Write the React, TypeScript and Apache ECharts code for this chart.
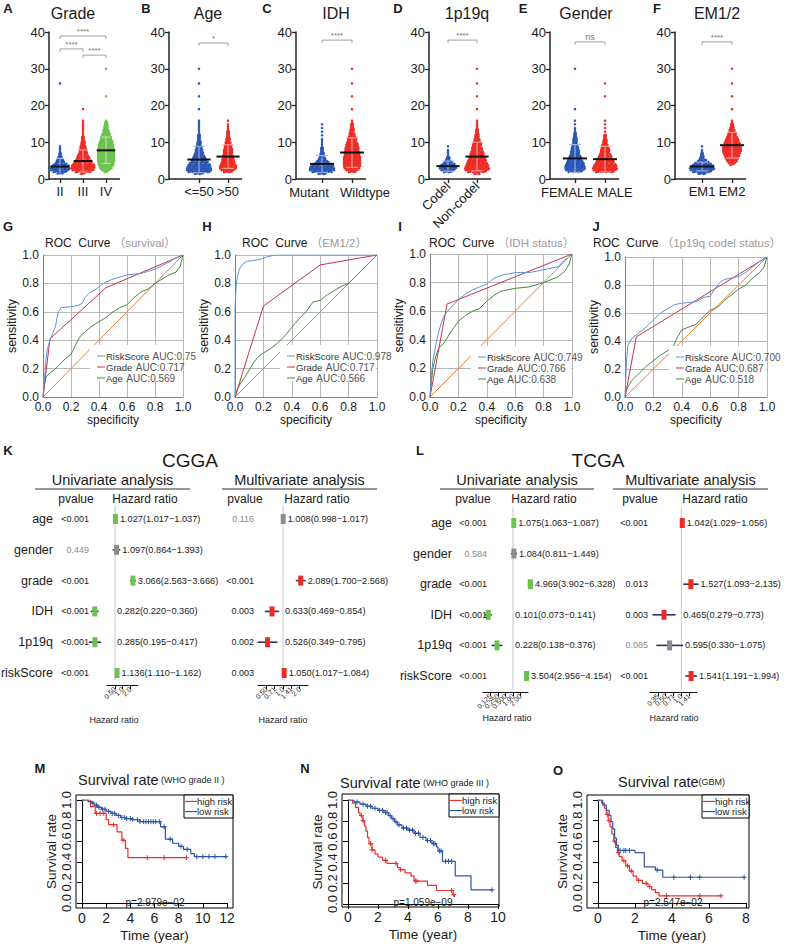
import React, { useEffect, useRef } from "react";
import * as echarts from "echarts";

const FONT = "'Liberation Sans', Arial, Helvetica, 'Noto Sans CJK SC', sans-serif";
const INK = "#1a1a1a";
const BLUE = "#2b55b3";
const RED = "#ec2b25";
const GREEN = "#6cc14f";
const BLUE_L = "#a3b9ea";
const RED_L = "#f7a8a3";
const GREEN_L = "#c3e7b2";
const SQ2 = Math.SQRT2;

// ---------- A–F : risk score distributions (counts per 0.5 bin starting at 1.5) ----------
const BIN_START = 1.5;
const BIN_STEP = 0.5;
const gradeCats = ["II", "III", "IV"];
const gradeII = [4, 9, 12, 13, 12, 9, 6, 5, 4, 3, 2, 2, 1, 1, 1, 1];
const gradeIII = [3, 10, 14, 15, 15, 14, 12, 11, 9, 8, 7, 6, 5, 5, 4, 4, 3, 3, 2, 2, 2, 1, 1, 1, 1, 1, 1, 1, 1, 1];
const gradeIV = [0, 3, 6, 8, 9, 10, 10, 11, 11, 11, 11, 11, 11, 11, 10, 10, 10, 9, 8, 7, 7, 6, 5, 4, 4, 3, 3, 2, 2, 1];
const gradeOut = [[26], [19], [22.5, 30]];
const gradeMeans = [3.4, 4.9, 7.8];
const gradeSDs = [2.2, 3.0, 3.6];
const gradeSig: [number, number, number, string][] = [[0, 2, 38.9, "****"], [0, 1, 35.4, "****"], [1, 2, 33.7, "****"]];

const ageCats = ["<=50", ">50"];
const ageLe50 = [6, 14, 16, 16, 15, 14, 12, 10, 9, 8, 7, 6, 5, 5, 4, 4, 3, 3, 2, 2, 2, 2, 1, 1, 1, 1, 1, 1, 1, 1];
const ageGt50 = [0, 6, 9, 11, 11, 10, 9, 8, 8, 7, 7, 6, 6, 6, 5, 5, 4, 4, 3, 3, 2, 2, 2, 2, 1, 1, 1, 1, 0, 1];
const ageOut = [[19, 22.5, 26, 30], []];
const ageMeans = [5.3, 6.1];
const ageSDs = [3.6, 3.2];
const ageSig: [number, number, number, string][] = [[0, 1, 37, "*"]];

const idhCats = ["Mutant", "Wildtype"];
const idhMut = [5, 13, 16, 16, 15, 12, 9, 7, 5, 4, 3, 3, 2, 2, 2, 1, 1, 1, 1, 1, 0, 1, 0, 1, 0, 1, 0, 1];
const idhWt = [0, 5, 8, 10, 11, 11, 11, 11, 11, 11, 10, 10, 10, 9, 9, 8, 8, 7, 6, 6, 5, 4, 4, 3, 3, 2, 2, 2, 1, 1];
const idhOut = [[], [19, 22.5, 26, 30]];
const idhMeans = [4.1, 7.2];
const idhSDs = [2.3, 4.0];
const idhSig: [number, number, number, string][] = [[0, 1, 37.8, "****"]];

const codelCats = ["Codel", "Non-codel"];
const codel = [0, 6, 9, 11, 11, 9, 6, 4, 3, 2, 1, 1, 1, 1, 0, 1];
const nonCodel = [4, 12, 15, 16, 15, 14, 13, 12, 11, 10, 9, 9, 8, 7, 7, 6, 6, 5, 4, 4, 3, 3, 2, 2, 2, 1, 1, 1, 1, 1];
const codelOut = [[], [19, 22.5, 26, 30]];
const codelMeans = [3.5, 6.1];
const codelSDs = [1.4, 3.9];
const codelSig: [number, number, number, string][] = [[0, 1, 37.8, "****"]];

const genderCats = ["FEMALE", "MALE"];
const female = [0, 9, 12, 13, 13, 12, 11, 10, 9, 8, 7, 6, 6, 5, 5, 4, 4, 3, 3, 3, 2, 2, 2, 1, 1, 1, 0, 1, 0, 1];
const male = [0, 12, 15, 16, 15, 14, 12, 11, 10, 9, 8, 7, 6, 6, 5, 4, 4, 3, 3, 2, 2, 2, 0, 1, 0, 1, 0, 1, 0, 1];
const genderOut = [[19, 30], [22.5, 26]];
const genderMeans = [5.6, 5.4];
const genderSDs = [3.8, 3.5];
const genderSig: [number, number, number, string][] = [[0, 1, 37.3, "ns"]];

const emCats = ["EM1", "EM2"];
const em1 = [5, 12, 15, 16, 15, 12, 9, 6, 4, 3, 2, 2, 1, 1, 0, 1];
const em2 = [0, 0, 0, 0, 0, 3, 5, 7, 8, 9, 10, 11, 12, 12, 12, 12, 11, 10, 9, 8, 7, 6, 5, 4, 4, 3, 2, 2, 1, 1];
const emOut = [[], [19, 22.5, 26, 30]];
const emMeans = [3.4, 9.2];
const emSDs = [1.2, 3.5];
const emSig: [number, number, number, string][] = [[0, 1, 37.3, "****"]];

// ---------- G–J : ROC curves ----------
const rocLegendNames = ["RiskScore", "Grade", "Age"];
const DIAG = [[0, 0], [1, 1]];
const rocG_risk = [[0, 0], [0.01, 0.12], [0.02, 0.25], [0.03, 0.33], [0.05, 0.4], [0.07, 0.45], [0.09, 0.5], [0.1, 0.56], [0.11, 0.6], [0.13, 0.63], [0.2, 0.635], [0.25, 0.645], [0.28, 0.66], [0.3, 0.7], [0.33, 0.73], [0.38, 0.76], [0.42, 0.79], [0.45, 0.81], [0.5, 0.83], [0.6, 0.86], [0.7, 0.87], [0.8, 0.9], [0.9, 0.95], [0.95, 0.98], [1, 1]];
const rocG_grade = [[0, 0], [0.05, 0.41], [0.45, 0.77], [1, 1]];
const rocG_age = [[0, 0], [0.01, 0.08], [0.02, 0.14], [0.05, 0.17], [0.08, 0.19], [0.12, 0.23], [0.16, 0.27], [0.2, 0.3], [0.23, 0.36], [0.26, 0.42], [0.3, 0.46], [0.35, 0.5], [0.4, 0.53], [0.45, 0.56], [0.5, 0.6], [0.55, 0.63], [0.6, 0.65], [0.65, 0.7], [0.7, 0.74], [0.75, 0.76], [0.8, 0.8], [0.85, 0.83], [0.9, 0.86], [0.95, 0.88], [0.98, 0.92], [1, 1]];
const rocG_auc = ["0.75", "0.717", "0.569"];

const rocH_risk = [[0, 0], [0, 0.62], [0.005, 0.72], [0.01, 0.8], [0.02, 0.86], [0.03, 0.9], [0.05, 0.93], [0.08, 0.955], [0.12, 0.96], [0.18, 0.97], [0.22, 0.985], [0.28, 1], [1, 1]];
const rocH_grade = [[0, 0], [0.2, 0.64], [0.6, 0.93], [1, 1]];
const rocH_age = [[0, 0], [0.02, 0.06], [0.04, 0.1], [0.07, 0.14], [0.1, 0.19], [0.13, 0.24], [0.16, 0.28], [0.2, 0.31], [0.25, 0.34], [0.3, 0.38], [0.35, 0.43], [0.4, 0.49], [0.45, 0.55], [0.5, 0.6], [0.55, 0.67], [0.6, 0.68], [0.65, 0.72], [0.7, 0.75], [0.75, 0.78], [0.8, 0.8], [0.85, 0.85], [0.9, 0.9], [0.95, 0.95], [1, 1]];
const rocH_auc = ["0.978", "0.717", "0.566"];

const rocI_risk = [[0, 0], [0.01, 0.15], [0.02, 0.25], [0.04, 0.36], [0.06, 0.45], [0.08, 0.52], [0.1, 0.57], [0.14, 0.62], [0.2, 0.68], [0.25, 0.72], [0.3, 0.75], [0.35, 0.77], [0.4, 0.79], [0.45, 0.83], [0.5, 0.85], [0.6, 0.87], [0.7, 0.87], [0.8, 0.89], [0.9, 0.91], [0.95, 0.96], [0.97, 0.97], [1, 1]];
const rocI_grade = [[0, 0], [0.12, 0.65], [1, 1]];
const rocI_age = [[0, 0], [0.01, 0.1], [0.02, 0.2], [0.04, 0.28], [0.06, 0.34], [0.1, 0.38], [0.15, 0.46], [0.2, 0.53], [0.25, 0.57], [0.3, 0.6], [0.35, 0.62], [0.4, 0.67], [0.45, 0.71], [0.5, 0.74], [0.6, 0.76], [0.7, 0.77], [0.8, 0.8], [0.9, 0.84], [0.95, 0.88], [0.98, 0.93], [1, 1]];
const rocI_auc = ["0.749", "0.766", "0.638"];

const rocJ_risk = [[0, 0], [0.005, 0.12], [0.01, 0.25], [0.02, 0.37], [0.05, 0.42], [0.1, 0.46], [0.15, 0.5], [0.2, 0.55], [0.25, 0.6], [0.3, 0.63], [0.35, 0.66], [0.4, 0.67], [0.5, 0.68], [0.55, 0.71], [0.6, 0.72], [0.63, 0.77], [0.67, 0.82], [0.7, 0.84], [0.8, 0.86], [0.85, 0.89], [0.9, 0.93], [0.95, 0.97], [1, 1]];
const rocJ_grade = [[0, 0], [0.08, 0.43], [1, 1]];
const rocJ_age = [[0, 0], [0.01, 0.05], [0.03, 0.09], [0.05, 0.12], [0.1, 0.17], [0.15, 0.22], [0.2, 0.26], [0.25, 0.3], [0.3, 0.33], [0.34, 0.36], [0.37, 0.43], [0.4, 0.48], [0.45, 0.5], [0.5, 0.52], [0.55, 0.57], [0.6, 0.62], [0.65, 0.64], [0.7, 0.69], [0.75, 0.73], [0.8, 0.77], [0.85, 0.8], [0.9, 0.85], [0.95, 0.89], [0.98, 0.93], [1, 1]];
const rocJ_auc = ["0.700", "0.687", "0.518"];

// ---------- K–L : Cox regression ----------
const coxVars = ["age", "gender", "grade", "IDH", "1p19q", "riskScore"];
const kUniP = ["<0.001", "0.449", "<0.001", "<0.001", "<0.001", "<0.001"];
const kUniHR = [1.027, 1.097, 3.066, 0.282, 0.285, 1.136];
const kUniLo = [1.017, 0.864, 2.563, 0.22, 0.195, 1.11];
const kUniHi = [1.037, 1.393, 3.666, 0.36, 0.417, 1.162];
const kMultiP = ["0.116", "", "<0.001", "0.003", "0.002", "0.003"];
const kMultiHR = [1.008, null, 2.089, 0.633, 0.526, 1.05];
const kMultiLo = [0.998, null, 1.7, 0.469, 0.349, 1.017];
const kMultiHi = [1.017, null, 2.568, 0.854, 0.795, 1.084];
const lUniP = ["<0.001", "0.584", "<0.001", "<0.001", "<0.001", "<0.001"];
const lUniHR = [1.075, 1.084, 4.969, 0.101, 0.228, 3.504];
const lUniLo = [1.063, 0.811, 3.902, 0.073, 0.138, 2.956];
const lUniHi = [1.087, 1.449, 6.328, 0.141, 0.376, 4.154];
const lMultiP = ["<0.001", "", "0.013", "0.003", "0.085", "<0.001"];
const lMultiHR = [1.042, null, 1.527, 0.465, 0.595, 1.541];
const lMultiLo = [1.029, null, 1.093, 0.279, 0.33, 1.191];
const lMultiHi = [1.056, null, 2.135, 0.773, 1.075, 1.994];
const kUniTicks = ["0.25", "0.50", "1.0", "2.0", "4.0"];
const kMultiTicks = ["0.35", "0.50", "0.71", "1.0", "1.41", "2.0", "2.83"];
const lUniTicks = ["0.062", "0.125", "0.250", "0.500", "1.00", "2.00", "4.00"];
const lMultiTicks = ["0.25", "0.35", "0.50", "0.71", "1.0", "1.41", "2.0"];

// ---------- M–O : Kaplan–Meier ----------
const kmM_high_t = [0, 0.7, 1.1, 2.0, 2.2, 2.9, 3.3, 3.6, 3.8, 8.65];
const kmM_high_s = [1, 0.935, 0.87, 0.81, 0.76, 0.69, 0.61, 0.53, 0.44, 0.44];
const kmM_high_c = [1.2, 1.5, 1.8, 2.6, 3.4, 5.4, 6.8, 8.65];
const kmM_low_t = [0, 0.5, 0.8, 1.0, 1.3, 1.6, 2.0, 2.4, 2.8, 3.2, 3.6, 4.2, 4.8, 6.5, 6.9, 7.5, 8.0, 8.4, 9.0, 9.3, 12];
const kmM_low_s = [1, 0.985, 0.97, 0.95, 0.93, 0.91, 0.89, 0.87, 0.85, 0.83, 0.82, 0.81, 0.79, 0.74, 0.62, 0.58, 0.55, 0.52, 0.48, 0.45, 0.45];
const kmM_low_c = [0.9, 1.2, 1.4, 1.7, 1.9, 2.2, 2.5, 2.7, 3.0, 3.3, 3.5, 3.7, 4.0, 4.2, 4.6, 4.8, 5.1, 5.3, 5.5, 5.7, 5.9, 6.1, 6.4, 6.8, 7.3, 8.2, 8.7, 9.5, 10.0, 10.5, 11.0, 11.9];

const kmN_high_t = [0, 0.3, 0.5, 0.7, 0.8, 1.0, 1.1, 1.2, 1.3, 1.4, 1.6, 1.8, 2.0, 2.3, 2.6, 3.3, 3.5, 3.8, 4.2, 4.4, 5.3, 5.9, 7.0, 7.1];
const kmN_high_s = [1, 0.97, 0.93, 0.88, 0.85, 0.8, 0.75, 0.7, 0.64, 0.58, 0.52, 0.48, 0.45, 0.42, 0.39, 0.35, 0.33, 0.3, 0.27, 0.22, 0.18, 0.13, 0.09, 0.065];
const kmN_high_c = [0.9, 1.0, 1.5, 1.6, 2.5, 3.2, 3.5, 4.5, 4.6, 6.9, 7.05];
const kmN_low_t = [0, 0.4, 0.8, 1.2, 1.6, 2.0, 2.4, 2.7, 2.9, 3.1, 3.3, 3.6, 4.0, 4.4, 4.8, 5.2, 5.6, 5.9, 6.0, 6.3, 7.15, 8.2, 9.65];
const kmN_low_s = [1, 0.98, 0.96, 0.94, 0.92, 0.9, 0.88, 0.85, 0.82, 0.79, 0.76, 0.73, 0.71, 0.68, 0.64, 0.61, 0.58, 0.55, 0.51, 0.41, 0.27, 0.135, 0.135];
const kmN_low_c = [0.6, 1.0, 1.3, 1.5, 1.8, 2.1, 2.3, 2.5, 2.6, 2.8, 3.0, 3.2, 3.4, 3.7, 3.9, 4.1, 4.3, 4.5, 4.7, 5.0, 5.3, 5.5, 5.7, 5.8, 6.1, 6.2, 6.5, 6.7, 6.9, 9.6];

const kmO_high_t = [0, 0.2, 0.35, 0.45, 0.55, 0.65, 0.75, 0.85, 0.95, 1.05, 1.15, 1.3, 1.5, 1.7, 1.9, 2.1, 2.4, 2.7, 2.9, 3.1, 3.3, 6.65];
const kmO_high_s = [1, 0.97, 0.92, 0.86, 0.8, 0.74, 0.67, 0.6, 0.54, 0.49, 0.45, 0.41, 0.36, 0.31, 0.26, 0.22, 0.19, 0.16, 0.13, 0.1, 0.07, 0.07];
const kmO_high_c = [0.5, 0.6, 0.9, 1.1, 1.4, 1.6, 1.8, 2.2, 2.6, 2.8, 3.7, 5.5, 6.65];
const kmO_low_t = [0, 0.25, 0.45, 0.6, 0.7, 0.8, 0.9, 1.0, 1.1, 2.0, 2.5, 3.1, 3.5, 7.9];
const kmO_low_s = [1, 0.95, 0.9, 0.85, 0.79, 0.72, 0.63, 0.56, 0.51, 0.49, 0.35, 0.32, 0.25, 0.25];
const kmO_low_c = [1.2, 1.4, 1.5, 1.7, 3.2, 4.1, 5.0, 5.5, 7.9];

// ---------- panel assembly ----------
const topPanels = [
  { title: "Grade", cats: gradeCats, counts: [gradeII, gradeIII, gradeIV], outl: gradeOut, means: gradeMeans, sds: gradeSDs, sig: gradeSig, colors: [BLUE, RED, GREEN], light: [BLUE_L, RED_L, GREEN_L] },
  { title: "Age", cats: ageCats, counts: [ageLe50, ageGt50], outl: ageOut, means: ageMeans, sds: ageSDs, sig: ageSig, colors: [BLUE, RED], light: [BLUE_L, RED_L] },
  { title: "IDH", cats: idhCats, counts: [idhMut, idhWt], outl: idhOut, means: idhMeans, sds: idhSDs, sig: idhSig, colors: [BLUE, RED], light: [BLUE_L, RED_L] },
  { title: "1p19q", cats: codelCats, counts: [codel, nonCodel], outl: codelOut, means: codelMeans, sds: codelSDs, sig: codelSig, colors: [BLUE, RED], light: [BLUE_L, RED_L] },
  { title: "Gender", cats: genderCats, counts: [female, male], outl: genderOut, means: genderMeans, sds: genderSDs, sig: genderSig, colors: [BLUE, RED], light: [BLUE_L, RED_L] },
  { title: "EM1/2", cats: emCats, counts: [em1, em2], outl: emOut, means: emMeans, sds: emSDs, sig: emSig, colors: [BLUE, RED], light: [BLUE_L, RED_L] },
];
const topLayout: any[] = [
  { letter: "A", lx: 8, titleX: 73, axisX: 49, c0: 60, sp: 23 },
  { letter: "B", lx: 146, titleX: 208, axisX: 169, c0: 199, sp: 29 },
  { letter: "C", lx: 267, titleX: 336, axisX: 296, c0: 322, sp: 30, labelDx: [-13, 13] },
  { letter: "D", lx: 398, titleX: 467, axisX: 429, c0: 448, sp: 29, rotate: true },
  { letter: "E", lx: 523, titleX: 586, axisX: 550, c0: 575, sp: 30, labelDx: [-8, 10] },
  { letter: "F", lx: 657, titleX: 717, axisX: 675, c0: 702, sp: 30 },
];

const rocPanels = [
  { sub: "（survival）", curves: [rocG_risk, rocG_grade, rocG_age], auc: rocG_auc },
  { sub: "（EM1/2）", curves: [rocH_risk, rocH_grade, rocH_age], auc: rocH_auc },
  { sub: "（IDH status）", curves: [rocI_risk, rocI_grade, rocI_age], auc: rocI_auc },
  { sub: "（1p19q codel status）", curves: [rocJ_risk, rocJ_grade, rocJ_age], auc: rocJ_auc },
];
const rocLayout = [
  { letter: "G", lx: 8, left: 43, top: 255, width: 140, height: 142, titleX: 45, legX: 97, legY: 356 },
  { letter: "H", lx: 207, left: 235, top: 255, width: 142, height: 142, titleX: 242, legX: 287, legY: 356 },
  { letter: "I", lx: 400, left: 430, top: 254, width: 142, height: 143, titleX: 429, legX: 478, legY: 357 },
  { letter: "J", lx: 596, left: 625, top: 257, width: 142, height: 140, titleX: 593, legX: 676, legY: 357 },
];
const ROC_COLORS = ["#5d92d8", "#c8334d", "#3f8e3b"];

const forestCols = [
  { p: kUniP, hr: kUniHR, lo: kUniLo, hi: kUniHi, ticks: kUniTicks, sig: GREEN },
  { p: kMultiP, hr: kMultiHR, lo: kMultiLo, hi: kMultiHi, ticks: kMultiTicks, sig: RED },
  { p: lUniP, hr: lUniHR, lo: lUniLo, hi: lUniHi, ticks: lUniTicks, sig: GREEN },
  { p: lMultiP, hr: lMultiHR, lo: lMultiLo, hi: lMultiHi, ticks: lMultiTicks, sig: RED },
];
const forestLayout = [
  { top: 505, height: 175, ymin: -0.455, ymax: 5.227, base: 2, dmin: 0.125, dmax: 8, dleft: 81.7, dwidth: 66.6, tbase: 2, tmin: 0.25, tmax: 4, tleft: 107, twidth: 31, ty: 685, pRight: 89, hrX: 114, hrY: 720 },
  { top: 505, height: 175, ymin: -0.455, ymax: 5.227, base: SQ2, dmin: Math.pow(SQ2, -3), dmax: Math.pow(SQ2, 3), dleft: 258, dwidth: 50, tbase: SQ2, tmin: Math.pow(SQ2, -3), tmax: Math.pow(SQ2, 3), tleft: 258, twidth: 50, ty: 685, pRight: 254, hrX: 283, hrY: 720 },
  { top: 507, height: 183, ymin: -0.523, ymax: 5.458, base: 2, dmin: 0.0625, dmax: 4, dleft: 483, dwidth: 45, tbase: 2, tmin: 0.0625, tmax: 4, tleft: 483, twidth: 45, ty: 692, pRight: 487, hrX: 507, hrY: 718 },
  { top: 507, height: 183, ymin: -0.523, ymax: 5.458, base: SQ2, dmin: 0.25, dmax: 2, dleft: 650, dwidth: 47, tbase: SQ2, tmin: 0.25, tmax: 2, tleft: 650, twidth: 47, ty: 692, pRight: 648, hrX: 674, hrY: 718 },
];
const forestBlocks = [
  { letter: "K", lx: 8, title: "CGGA", titleX: 190, nameRight: 53, cols: [0, 1], uniC: 112.5, multiC: 299.5, uniLine: [35, 190], multiLine: [222, 377], heads: [76, 145, 245, 317] },
  { letter: "L", lx: 420, title: "TCGA", titleX: 598, nameRight: 452, cols: [2, 3], uniC: 517, multiC: 690.5, uniLine: [440, 594], multiLine: [613, 768], heads: [473, 544, 640, 715] },
];

const kmPanels = [
  { high: [kmM_high_t, kmM_high_s, kmM_high_c], low: [kmM_low_t, kmM_low_s, kmM_low_c], sub: " (WHO grade II )", p: "p=2.979e−02" },
  { high: [kmN_high_t, kmN_high_s, kmN_high_c], low: [kmN_low_t, kmN_low_s, kmN_low_c], sub: " (WHO grade III )", p: "p=1.059e−09" },
  { high: [kmO_high_t, kmO_high_s, kmO_high_c], low: [kmO_low_t, kmO_low_s, kmO_low_c], sub: "(GBM)", p: "p=2.547e−02" },
];
const kmLayout = [
  { letter: "M", lx: 40, ly: 768, left: 82, top: 800, width: 145, height: 103, xMax: 12, box: [76, 795, 233, 908], titleX: 78, titleY: 780, leg: [184, 795, 233, 818], pX: 155 },
  { letter: "N", lx: 305, ly: 768, left: 348, top: 800, width: 150, height: 104, xMax: 10, box: [342, 794, 499, 907], titleX: 340, titleY: 783, leg: [449, 794, 499, 817], pX: 423 },
  { letter: "O", lx: 558, ly: 770, left: 598, top: 800, width: 148, height: 103, xMax: 8, box: [587, 795, 749, 908], titleX: 618, titleY: 782, leg: [702, 795, 749, 818], pX: 673 },
];
const KM_HIGH = "#e8302a";
const KM_LOW = "#2e56a8";

function stepAt(ts: number[], ss: number[], t: number) {
  let v = ss[0];
  for (let i = 0; i < ts.length; i++) if (ts[i] <= t) v = ss[i];
  return v;
}

function buildOption() {
  const grid: any[] = [], xAxis: any[] = [], yAxis: any[] = [], series: any[] = [], gfx: any[] = [];
  const T = (x: number, y: number, text: string, st: any = {}, z = 100) =>
    gfx.push({ type: "text", x, y, z, silent: true, style: { text, fill: INK, fontFamily: FONT, fontSize: 12, align: "left", verticalAlign: "middle", ...st } });
  const Ln = (x1: number, y1: number, x2: number, y2: number, stroke = "#222", lineWidth = 1, z = 100) =>
    gfx.push({ type: "line", z, silent: true, shape: { x1, y1, x2, y2 }, style: { stroke, lineWidth } });
  const letter = (x: number, y: number, s: string) => T(x, y, s, { fontWeight: "bold", fontSize: 13, align: "center" });

  // ===== A–F =====
  topPanels.forEach((P, k) => {
    const L = topLayout[k];
    const n = P.cats.length;
    const left = L.c0 - L.sp / 2;
    const gi = grid.length;
    grid.push({ left, top: 32, width: n * L.sp, height: 147 });
    const xi = xAxis.length, yi = yAxis.length;
    const lab: any = { interval: 0, fontSize: 13, color: INK, fontFamily: FONT, margin: 6 };
    if (L.rotate) { lab.rotate = 45; lab.margin = 5; }
    if (L.labelDx) lab.show = false;
    xAxis.push({ gridIndex: gi, type: "category", data: P.cats, axisLine: { show: false }, axisTick: { show: true, alignWithLabel: true, length: 4, lineStyle: { color: "#222", width: 1.3 } }, axisLabel: lab, splitLine: { show: false } });
    yAxis.push({ gridIndex: gi, type: "value", min: 0, max: 40, interval: 10, offset: left - L.axisX, axisLine: { show: true, lineStyle: { color: "#222", width: 1.5 } }, axisTick: { show: true, length: 4, lineStyle: { color: "#222", width: 1.3 } }, axisLabel: { fontSize: 13, color: INK, fontFamily: FONT, margin: 4 }, splitLine: { show: false } });
    if (L.labelDx) {
      P.cats.forEach((c, ci) => T(L.c0 + ci * L.sp + L.labelDx[ci], 192, c, { fontSize: 13, align: "center" }));
    }

    P.counts.forEach((cnt, ci) => {
      const pts: number[][] = [];
      cnt.forEach((c, b) => {
        const v = BIN_START + b * BIN_STEP;
        for (let j = 0; j < c; j++) pts.push([ci, v + ((j % 3) - 1) * 0.12, (j - (c - 1) / 2) * 1.6]);
      });
      P.outl[ci].forEach((v) => pts.push([ci, v, 0]));
      const col = P.colors[ci];
      series.push({
        type: "custom", xAxisIndex: xi, yAxisIndex: yi, silent: true, z: 2, data: pts, encode: { x: 0, y: 1 },
        renderItem: (params: any, api: any) => {
          const p = api.coord([api.value(0), api.value(1)]);
          return { type: "circle", shape: { cx: p[0] + api.value(2), cy: p[1], r: 1.25 }, style: { fill: col } };
        },
      });
    });
    series.push({
      type: "custom", xAxisIndex: xi, yAxisIndex: yi, silent: true, z: 4, encode: { x: 0, y: 1 },
      data: P.means.map((m, ci) => [ci, m, P.sds[ci]]),
      renderItem: (params: any, api: any) => {
        const ci = api.value(0), m = api.value(1), sd = api.value(2);
        const pm = api.coord([ci, m]), pt = api.coord([ci, m + sd]), pb = api.coord([ci, Math.max(m - sd, 0.3)]);
        const hw = L.sp * 0.4, cap = L.sp * 0.2, lc = P.light[ci];
        return {
          type: "group", children: [
            { type: "line", shape: { x1: pm[0], y1: pt[1], x2: pm[0], y2: pb[1] }, style: { stroke: lc, lineWidth: 1 } },
            { type: "line", shape: { x1: pm[0] - cap, y1: pt[1], x2: pm[0] + cap, y2: pt[1] }, style: { stroke: lc, lineWidth: 1 } },
            { type: "line", shape: { x1: pm[0] - cap, y1: pb[1], x2: pm[0] + cap, y2: pb[1] }, style: { stroke: lc, lineWidth: 1 } },
            { type: "line", shape: { x1: pm[0] - hw, y1: pm[1], x2: pm[0] + hw, y2: pm[1] }, style: { stroke: "#111", lineWidth: 2 } },
          ],
        };
      },
    });
    series.push({
      type: "custom", xAxisIndex: xi, yAxisIndex: yi, silent: true, z: 4, encode: { x: [0, 1], y: 2 },
      data: P.sig.map((s) => [s[0], s[1], s[2]]),
      renderItem: (params: any, api: any) => {
        const a = api.coord([api.value(0), api.value(2)]), b = api.coord([api.value(1), api.value(2)]);
        const label = P.sig[params.dataIndex][3];
        return {
          type: "group", children: [
            { type: "polyline", shape: { points: [[a[0], a[1] + 3], [a[0], a[1]], [b[0], b[1]], [b[0], b[1] + 3]] }, style: { stroke: "#8a8a8a", lineWidth: 0.8, fill: null } },
            { type: "text", x: (a[0] + b[0]) / 2, y: a[1] - 0.5, style: { text: label, fill: "#777", fontSize: label === "ns" ? 9 : 8, fontFamily: FONT, align: "center", verticalAlign: "bottom" } },
          ],
        };
      },
    });
    Ln(L.axisX, 179, L.c0 + (n - 1) * L.sp + 14, 179, "#222", 1.5);
    T(L.titleX, 13, P.title, { fontSize: 16, align: "center" });
    letter(L.lx, 8, L.letter);
  });

  // ===== G–J =====
  rocPanels.forEach((R, k) => {
    const L = rocLayout[k];
    const gi = grid.length;
    grid.push({ left: L.left, top: L.top, width: L.width, height: L.height });
    const xi = xAxis.length, yi = yAxis.length;
    const lab = { formatter: (v: number) => v.toFixed(1), fontSize: 12, color: INK, fontFamily: FONT, margin: 4 };
    const base = { type: "value", min: 0, max: 1, interval: 0.2, axisLine: { show: true, lineStyle: { color: "#808080", width: 1 } }, axisTick: { show: false }, splitLine: { show: true, lineStyle: { color: "#b8b8b8", width: 1 } }, axisLabel: lab, nameLocation: "middle" };
    xAxis.push({ ...base, gridIndex: gi, name: "specificity", nameGap: 14, nameTextStyle: { fontSize: 12, color: INK, fontFamily: FONT } });
    yAxis.push({ ...base, gridIndex: gi, name: "sensitivity", nameGap: 21, nameTextStyle: { fontSize: 12.5, color: INK, fontFamily: FONT } });
    series.push({ type: "line", xAxisIndex: xi, yAxisIndex: yi, data: DIAG, symbol: "none", silent: true, lineStyle: { color: "#f07b2e", width: 1 }, z: 2 });
    [2, 1, 0].forEach((c) =>
      series.push({ type: "line", xAxisIndex: xi, yAxisIndex: yi, data: R.curves[c], symbol: "none", silent: true, lineStyle: { color: ROC_COLORS[c], width: 1 }, z: 3 })
    );
    gfx.push({ type: "rect", z: 50, silent: true, shape: { x: L.legX - 7, y: L.legY - 11, width: L.left + L.width - 1 - (L.legX - 7), height: 36 }, style: { fill: "#fff" } });
    rocLegendNames.forEach((nm, i) => {
      const y = L.legY + i * 11;
      Ln(L.legX, y, L.legX + 8, y, ROC_COLORS[i], 1, 51);
      T(L.legX + 9, y, `{n|${nm}} {a|AUC:${R.auc[i]}}`, {
        rich: { n: { fontSize: 9.5, fill: "#333", fontFamily: FONT }, a: { fontSize: 10, fill: "#555", fontFamily: FONT } },
      }, 52);
    });
    T(L.titleX, 243, `{a|ROC  Curve} {b|${R.sub}}`, {
      rich: { a: { fontSize: 12, fill: INK, fontFamily: FONT }, b: { fontSize: 11.5, fill: "#9a9a9a", fontFamily: FONT } },
    });
    letter(L.lx, 226, L.letter);
  });

  // ===== K–L =====
  forestCols.forEach((F, k) => {
    const L = forestLayout[k];
    const gi = grid.length;
    grid.push({ left: L.dleft, top: L.top, width: L.dwidth, height: L.height });
    const xi = xAxis.length, yi = yAxis.length;
    xAxis.push({ gridIndex: gi, type: "log", logBase: L.base, min: L.dmin, max: L.dmax, show: false });
    yAxis.push({ gridIndex: gi, type: "value", inverse: true, min: L.ymin, max: L.ymax, show: false });
    series.push({ type: "line", xAxisIndex: xi, yAxisIndex: yi, data: [[1, L.ymin], [1, L.ymax]], symbol: "none", silent: true, lineStyle: { color: "#c6c6c6", width: 1 }, z: 1 });
    const rows: number[][] = [];
    F.hr.forEach((h, i) => {
      if (h == null) return;
      const sig = parseFloat(F.p[i].replace("<", "")) <= 0.05 ? 1 : 0;
      rows.push([h as number, i, F.lo[i] as number, F.hi[i] as number, sig]);
    });
    series.push({
      type: "custom", xAxisIndex: xi, yAxisIndex: yi, silent: true, z: 3, encode: { x: 0, y: 1 }, data: rows,
      renderItem: (params: any, api: any) => {
        const hr = api.value(0), r = api.value(1), lo = api.value(2), hi = api.value(3), sig = api.value(4);
        const c = api.coord([hr, r]), l = api.coord([lo, r]), h = api.coord([hi, r]), ref = api.coord([1, r]);
        const tx = Math.max(ref[0], c[0] + 2.5, h[0]) + 2;
        return {
          type: "group", children: [
            { type: "line", shape: { x1: l[0], y1: c[1], x2: h[0], y2: c[1] }, style: { stroke: "#2d2f6b", lineWidth: 1.6 } },
            { type: "rect", shape: { x: c[0] - 2.5, y: c[1] - 5, width: 5, height: 10 }, style: { fill: sig ? F.sig : "#8c8c8c" } },
            { type: "text", x: tx, y: c[1], style: { text: `${hr.toFixed(3)}(${lo.toFixed(3)}−${hi.toFixed(3)})`, fill: INK, fontSize: 9.2, fontFamily: FONT, align: "left", verticalAlign: "middle" } },
          ],
        };
      },
    });
    // hazard-ratio tick axis
    const tg = grid.length;
    grid.push({ left: L.tleft, top: L.ty - 1, width: L.twidth, height: 1 });
    xAxis.push({
      gridIndex: tg, type: "log", logBase: L.tbase, min: L.tmin, max: L.tmax,
      axisLine: { show: true, lineStyle: { color: "#111", width: 1 } }, axisTick: { show: true, length: 4, lineStyle: { color: "#111" } },
      splitLine: { show: false }, minorTick: { show: false },
      axisLabel: { rotate: 45, fontSize: 7, color: INK, fontFamily: FONT, margin: 3, formatter: (v: number, i: number) => F.ticks[i] ?? "" },
    });
    yAxis.push({ gridIndex: tg, type: "value", show: false });
    T(L.hrX, L.hrY, "Hazard ratio", { fontSize: 9, align: "center" });
    const rowY = (i: number) => L.top + ((i - L.ymin) / (L.ymax - L.ymin)) * L.height;
    F.p.forEach((p, i) => {
      if (!p) return;
      const grey = parseFloat(p.replace("<", "")) > 0.05;
      T(L.pRight, rowY(i), p, { fontSize: 9, align: "right", fill: grey ? "#8a8a8a" : INK });
    });
  });
  forestBlocks.forEach((B) => {
    letter(B.lx, 450, B.letter);
    T(B.titleX, 460, B.title, { fontSize: 19, align: "center" });
    T(B.uniC, 480, "Univariate analysis", { fontSize: 14.5, align: "center" });
    T(B.multiC, 480, "Multivariate analysis", { fontSize: 14.5, align: "center" });
    Ln(B.uniLine[0], 489, B.uniLine[1], 489, "#333", 1.2);
    Ln(B.multiLine[0], 489, B.multiLine[1], 489, "#333", 1.2);
    ["pvalue", "Hazard ratio", "pvalue", "Hazard ratio"].forEach((h, i) => T(B.heads[i], 499, h, { fontSize: 12, align: "center" }));
    const L = forestLayout[B.cols[0]];
    coxVars.forEach((v, i) => {
      const y = L.top + ((i - L.ymin) / (L.ymax - L.ymin)) * L.height;
      T(B.nameRight, y, v, { fontSize: 12.5, align: "right" });
    });
  });

  // ===== M–O =====
  kmPanels.forEach((K, k) => {
    const L = kmLayout[k];
    const gi = grid.length;
    grid.push({ left: L.left, top: L.top, width: L.width, height: L.height });
    const xi = xAxis.length, yi = yAxis.length;
    xAxis.push({
      gridIndex: gi, type: "value", min: 0, max: L.xMax, interval: 2, offset: L.box[3] - (L.top + L.height),
      axisLine: { show: true, lineStyle: { color: "#000", width: 1 } }, axisTick: { show: true, length: 5, lineStyle: { color: "#000" } },
      axisLabel: { fontSize: 14, color: INK, fontFamily: FONT, margin: 3 }, splitLine: { show: false },
      name: "Time (year)", nameLocation: "middle", nameGap: 21, nameTextStyle: { fontSize: 13.5, color: INK, fontFamily: FONT },
    });
    yAxis.push({
      gridIndex: gi, type: "value", min: 0, max: 1, interval: 0.2, offset: L.left - L.box[0],
      axisLine: { show: true, lineStyle: { color: "#000", width: 1 } }, axisTick: { show: true, length: 5, lineStyle: { color: "#000" } },
      axisLabel: { rotate: 90, fontSize: 13, color: INK, fontFamily: FONT, margin: 3, formatter: (v: number) => v.toFixed(1) }, splitLine: { show: false },
      name: "Survival rate", nameLocation: "middle", nameGap: 18, nameTextStyle: { fontSize: 13.5, color: INK, fontFamily: FONT },
    });
    const groups: [number[][], string][] = [[K.high, KM_HIGH], [K.low, KM_LOW]];
    groups.forEach(([g, col]) => {
      const [ts, ss, cs] = g;
      series.push({ type: "line", xAxisIndex: xi, yAxisIndex: yi, step: "end", symbol: "none", silent: true, data: ts.map((t, i) => [t, ss[i]]), lineStyle: { color: col, width: 1.2 }, z: 3 });
      series.push({
        type: "custom", xAxisIndex: xi, yAxisIndex: yi, silent: true, z: 4, encode: { x: 0, y: 1 },
        data: cs.map((t) => [t, stepAt(ts, ss, t)]),
        renderItem: (params: any, api: any) => {
          const p = api.coord([api.value(0), api.value(1)]);
          return {
            type: "group", children: [
              { type: "line", shape: { x1: p[0] - 2.5, y1: p[1], x2: p[0] + 2.5, y2: p[1] }, style: { stroke: col, lineWidth: 1 } },
              { type: "line", shape: { x1: p[0], y1: p[1] - 2.5, x2: p[0], y2: p[1] + 2.5 }, style: { stroke: col, lineWidth: 1 } },
            ],
          };
        },
      });
    });
    const [bx0, by0, bx1, by1] = L.box;
    gfx.push({ type: "rect", z: 60, silent: true, shape: { x: bx0, y: by0, width: bx1 - bx0, height: by1 - by0 }, style: { fill: null, stroke: "#000", lineWidth: 1 } });
    const [lx0, ly0, lx1, ly1] = L.leg;
    gfx.push({ type: "rect", z: 61, silent: true, shape: { x: lx0, y: ly0, width: lx1 - lx0, height: ly1 - ly0 }, style: { fill: "#fff", stroke: "#000", lineWidth: 1 } });
    const r1 = ly0 + (ly1 - ly0) * 0.28, r2 = ly0 + (ly1 - ly0) * 0.72;
    Ln(lx0 + 1, r1, lx0 + 13, r1, KM_HIGH, 1.2, 62);
    Ln(lx0 + 1, r2, lx0 + 13, r2, KM_LOW, 1.2, 62);
    T(lx0 + 13, r1, "high risk", { fontSize: 9.5, lineHeight: 9 }, 63);
    T(lx0 + 13, r2, "low risk", { fontSize: 9.5, lineHeight: 9 }, 63);
    T(L.pX, 902, K.p, { fontSize: 10, align: "center" });
    T(L.titleX, L.titleY, `{a|Survival rate}{b|${K.sub}}`, {
      rich: { a: { fontSize: 14.5, fill: INK, fontFamily: FONT }, b: { fontSize: 9, fill: INK, fontFamily: FONT } },
    });
    letter(L.lx, L.ly, L.letter);
  });

  return {
    animation: false,
    backgroundColor: "#ffffff",
    textStyle: { fontFamily: FONT },
    grid, xAxis, yAxis, series, graphic: gfx,
  };
}

export default function App() {
  const ref = useRef<HTMLDivElement>(null);
  useEffect(() => {
    document.body.style.margin = "0";
    const chart = echarts.init(ref.current!, null, { renderer: "svg" });
    chart.setOption(buildOption() as any);
    return () => chart.dispose();
  }, []);
  return <div ref={ref} style={{ width: 787, height: 944, background: "#fff" }} />;
}
